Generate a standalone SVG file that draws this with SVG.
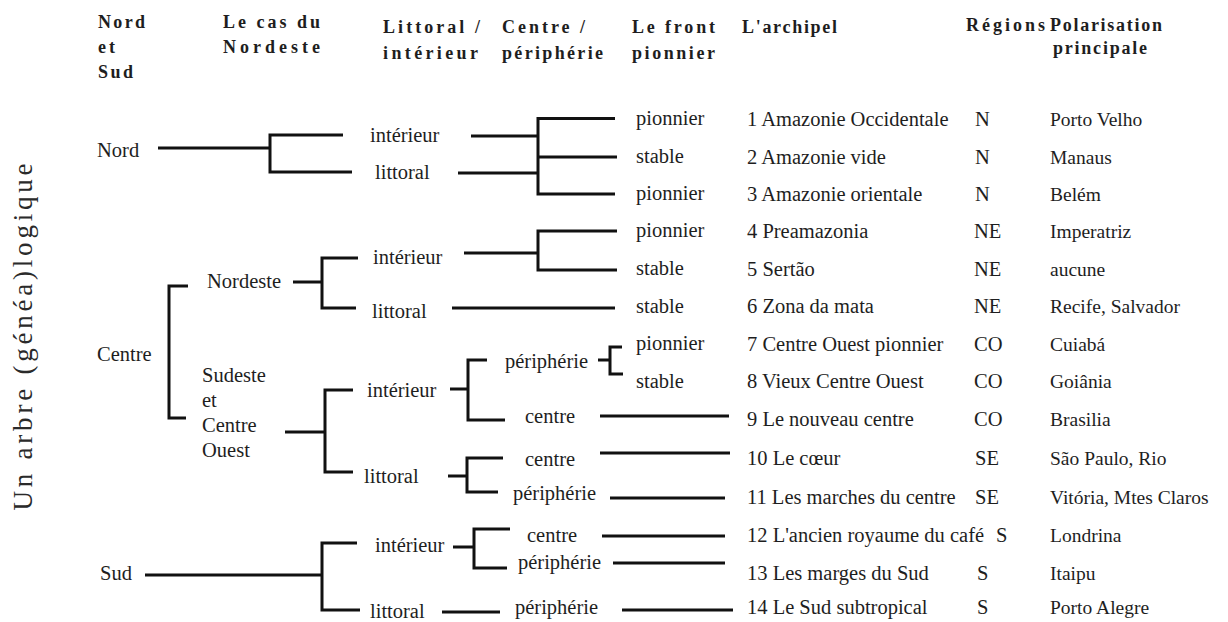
<svg xmlns="http://www.w3.org/2000/svg" width="1228" height="622" viewBox="0 0 1228 622">
<style>
text{font-family:"Liberation Serif","Times New Roman",serif;fill:#1e1e1e}
.t{font-size:20.5px}
.p{font-size:19.5px}
.h{font-size:18px;font-weight:bold}
.ttl{font-size:27px;fill:#2a2a2a}
.c path{fill:none;stroke:#111;stroke-width:3}
</style>
<rect width="1228" height="622" fill="#fff"/>
<g id="header">
<text class="h" x="98" y="28" textLength="47" lengthAdjust="spacing">Nord</text>
<text class="h" x="98" y="53" textLength="17" lengthAdjust="spacing">et</text>
<text class="h" x="98" y="78" textLength="35" lengthAdjust="spacing">Sud</text>
<text class="h" x="223" y="28" textLength="97" lengthAdjust="spacing">Le cas du</text>
<text class="h" x="223" y="53" textLength="97" lengthAdjust="spacing">Nordeste</text>
<text class="h" x="383" y="33" textLength="97" lengthAdjust="spacing">Littoral /</text>
<text class="h" x="383" y="59" textLength="95" lengthAdjust="spacing">intérieur</text>
<text class="h" x="502" y="33" textLength="83" lengthAdjust="spacing">Centre /</text>
<text class="h" x="502" y="59" textLength="101" lengthAdjust="spacing">périphérie</text>
<text class="h" x="632" y="33" textLength="83" lengthAdjust="spacing">Le front</text>
<text class="h" x="632" y="59" textLength="83" lengthAdjust="spacing">pionnier</text>
<text class="h" x="742" y="33" textLength="95" lengthAdjust="spacing">L'archipel</text>
<text class="h" x="966" y="31" textLength="79" lengthAdjust="spacing">Régions</text>
<text class="h" x="1050" y="31" textLength="112" lengthAdjust="spacing">Polarisation</text>
<text class="h" x="1053" y="54" textLength="94" lengthAdjust="spacing">principale</text>
</g>
<g id="title">
<text class="ttl" transform="translate(32,337) rotate(-90)" text-anchor="middle" textLength="347" lengthAdjust="spacing">Un arbre (généa)logique</text>
</g>
<g class="c" id="connectors">
<path d="M158 148H270M270 133.5V173.5M270 135H343M270 172H352"/>
<path d="M471 136H538M458 173H538M538 117V195.5M538 118.5H615M538 157H617M538 194H615"/>
<path d="M293 282H322M322 256.5V309.5M322 258H358M322 308H356"/>
<path d="M464 253H538M538 229.5V271.5M538 231H617M538 270H617"/>
<path d="M452 308H615"/>
<path d="M188 286H169V418H186"/>
<path d="M285 432H325M325 388.5V473.5M325 390H353M325 472H353"/>
<path d="M450 389H468M468 358.5V421.5M468 360H487M468 420H505"/>
<path d="M598 360H610M610 345.5V375.5M610 347H622M610 374H623"/>
<path d="M600 416H729"/>
<path d="M448 476H467M467 456.5V493.5M467 458H503M467 492H498"/>
<path d="M600 453H730M610 498H725"/>
<path d="M145 575H322M322 541.5V611.5M322 543H357M322 610H360"/>
<path d="M453 547H474M474 527.5V569.5M474 529H510M474 568H507"/>
<path d="M602 536H725M613 563H725"/>
<path d="M442 612H500M622 610H733"/>
</g>
<g id="n-nord"><text class="t" x="97" y="157">Nord</text></g>
<g id="n-centre"><text class="t" x="97" y="361">Centre</text></g>
<g id="n-sud"><text class="t" x="100" y="580">Sud</text></g>
<g id="n-nordeste"><text class="t" x="207" y="288">Nordeste</text></g>
<g id="n-sudeste"><text class="t" x="202" y="382">Sudeste</text><text class="t" x="202" y="407">et</text><text class="t" x="202" y="432">Centre</text><text class="t" x="202" y="457">Ouest</text></g>
<g id="n-nord-int"><text class="t" x="370" y="142">intérieur</text></g>
<g id="n-nord-lit"><text class="t" x="375" y="179">littoral</text></g>
<g id="n-ne-int"><text class="t" x="373" y="264">intérieur</text></g>
<g id="n-ne-lit"><text class="t" x="372" y="318">littoral</text></g>
<g id="n-se-int"><text class="t" x="367" y="397">intérieur</text></g>
<g id="n-se-lit"><text class="t" x="364" y="483">littoral</text></g>
<g id="n-sud-int"><text class="t" x="375" y="552">intérieur</text></g>
<g id="n-sud-lit"><text class="t" x="370" y="618">littoral</text></g>
<g id="n-per-7"><text class="t" x="505" y="368">périphérie</text></g>
<g id="n-cen-9"><text class="t" x="525" y="423">centre</text></g>
<g id="n-cen-10"><text class="t" x="525" y="466">centre</text></g>
<g id="n-per-11"><text class="t" x="513" y="500">périphérie</text></g>
<g id="n-cen-12"><text class="t" x="527" y="542">centre</text></g>
<g id="n-per-13"><text class="t" x="518" y="569">périphérie</text></g>
<g id="n-per-14"><text class="t" x="515" y="614">périphérie</text></g>
<g id="front">
<text class="t" x="636" y="125">pionnier</text>
<text class="t" x="636" y="163">stable</text>
<text class="t" x="636" y="200">pionnier</text>
<text class="t" x="636" y="237">pionnier</text>
<text class="t" x="636" y="275">stable</text>
<text class="t" x="636" y="313">stable</text>
<text class="t" x="636" y="350">pionnier</text>
<text class="t" x="636" y="388">stable</text>
</g>
<g id="archipel">
<text class="t" x="747" y="126">1 Amazonie Occidentale</text>
<text class="t" x="747" y="164">2 Amazonie vide</text>
<text class="t" x="747" y="201">3 Amazonie orientale</text>
<text class="t" x="747" y="238">4 Preamazonia</text>
<text class="t" x="747" y="276">5 Sertão</text>
<text class="t" x="747" y="313">6 Zona da mata</text>
<text class="t" x="747" y="351">7 Centre Ouest pionnier</text>
<text class="t" x="747" y="388">8 Vieux Centre Ouest</text>
<text class="t" x="747" y="426">9 Le nouveau centre</text>
<text class="t" x="747" y="465">10 Le cœur</text>
<text class="t" x="747" y="504">11 Les marches du centre</text>
<text class="t" x="747" y="542">12 L'ancien royaume du café</text>
<text class="t" x="747" y="580">13 Les marges du Sud</text>
<text class="t" x="747" y="614">14 Le Sud subtropical</text>
</g>
<g id="regions">
<text class="t" x="975" y="126">N</text>
<text class="t" x="975" y="164">N</text>
<text class="t" x="975" y="201">N</text>
<text class="t" x="974" y="238">NE</text>
<text class="t" x="974" y="276">NE</text>
<text class="t" x="974" y="313">NE</text>
<text class="t" x="974" y="351">CO</text>
<text class="t" x="974" y="388">CO</text>
<text class="t" x="974" y="426">CO</text>
<text class="t" x="975" y="465">SE</text>
<text class="t" x="975" y="504">SE</text>
<text class="t" x="996" y="542">S</text>
<text class="t" x="977" y="580">S</text>
<text class="t" x="977" y="614">S</text>
</g>
<g id="polarisation">
<text class="p" x="1050" y="126">Porto Velho</text>
<text class="p" x="1050" y="164">Manaus</text>
<text class="p" x="1050" y="201">Belém</text>
<text class="p" x="1050" y="238">Imperatriz</text>
<text class="p" x="1050" y="276">aucune</text>
<text class="p" x="1050" y="313">Recife, Salvador</text>
<text class="p" x="1050" y="351">Cuiabá</text>
<text class="p" x="1050" y="388">Goiânia</text>
<text class="p" x="1050" y="426">Brasilia</text>
<text class="p" x="1050" y="465">São Paulo, Rio</text>
<text class="p" x="1050" y="504">Vitória, Mtes Claros</text>
<text class="p" x="1050" y="542">Londrina</text>
<text class="p" x="1050" y="580">Itaipu</text>
<text class="p" x="1050" y="614">Porto Alegre</text>
</g>
</svg>
